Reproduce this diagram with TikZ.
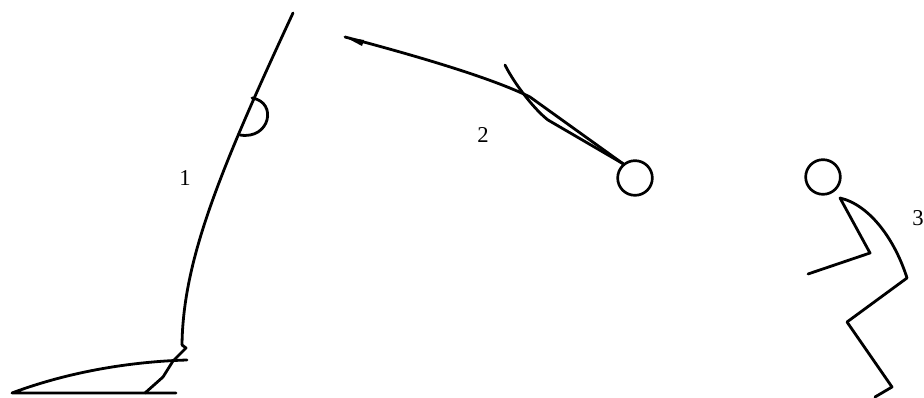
\documentclass[tikz,border=0pt]{standalone}
\usepackage{fontspec}
\setmainfont{Liberation Serif}
\usepackage{tikz}
\usetikzlibrary{positioning}
\tikzset{
    %Define style for the stick lines
    stroke/.style={
           draw=black,
           line width=2.1pt,
           line cap=round,
           line join=round},
    %Define style for heads
    head/.style={
           circle,
           draw=black,
           line width=2pt,
           minimum size=26pt,
           inner sep=0pt},
    %Define style for phase numbers
    phase/.style={
           font=\fontsize{17}{20}\selectfont,
           inner sep=0pt}
}

\begin{document}
\begin{tikzpicture}[x=0.75pt,y=-0.75pt]
\useasboundingbox (0,0) rectangle (924,398);

 %take-off
\coordinate (top1) at (293,13);
\coordinate (hip1) at (182,345);
\draw[stroke] (top1) .. controls (220,170) and (183,260) .. (hip1);
\draw[stroke] (252,98) .. controls (278,102) and (270,140) .. (240,135);
\draw[stroke] (hip1) -- (186,348) -- (173,361) -- (163,377) -- (145,393);
\draw[stroke] (187,360) .. controls (120,362) and (60,375) .. (12,393) -- (176,393);
\node[phase] (n1) at (185,178) {1};

 %flight
\node[head] (h2) at (635,178) {};
\coordinate (tip2) at (345,37);
\draw[stroke] (tip2) .. controls (440,62) and (500,82) .. (530,97) -- (h2.130);
\fill (tip2) -- (364,40) -- (362,46) -- cycle;
\draw[stroke] (505,65) .. controls (515,85) and (535,110) .. (548,120) -- (h2.130);
\node[phase] (n2) at (483,135) {2};

 %landing
\node[head] (h3) at (823,177) {};
\coordinate (neck3) at (840,198);
\draw[stroke] (808,274) -- (870,253) -- (neck3)
    .. controls (870,205) and (895,240) .. (907,278)
    -- (847,322) -- (892,387) -- (875,397);
\node[phase] (n3) at (918,218) {3};

\end{tikzpicture}
\end{document}
